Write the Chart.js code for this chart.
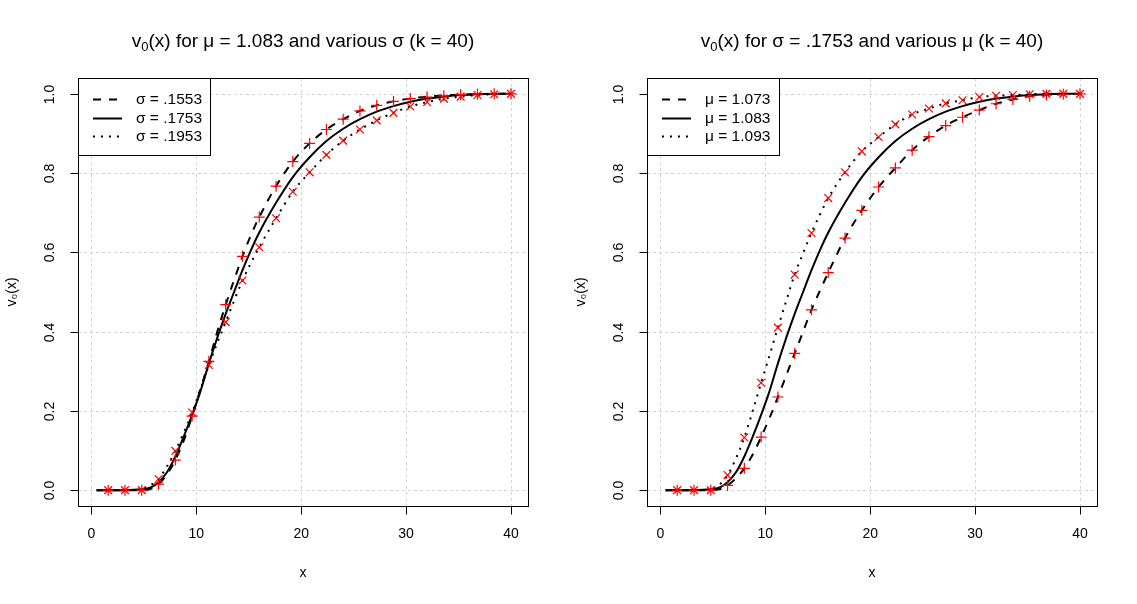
<!DOCTYPE html>
<html>
<head>
<meta charset="utf-8">
<script src="https://cdn.jsdelivr.net/npm/chart.js@4.4.0/dist/chart.umd.min.js"></script>
<style>
  body { margin: 0; background: #fff; width: 1137px; height: 604px; overflow: hidden; position: relative; }
  canvas { position: absolute; top: 0; }
  #leftChart { left: 0; }
  #rightChart { left: 569px; }
</style>
</head>
<body>
<canvas id="leftChart" width="568" height="604"></canvas>
<canvas id="rightChart" width="568" height="604"></canvas>
<script>
// x positions of the curves and of the simulated points
const lineX = [0.5, 1.6, 3.2, 4.8, 5.6, 6.4, 7.2, 8.0, 8.8, 9.6, 10.4, 11.2, 12.0, 12.8, 13.6, 14.4, 15.2,
               16.0, 17.6, 19.2, 20.8, 22.4, 24.0, 25.6, 27.2, 28.8, 30.4, 32.0, 33.6, 35.2, 36.8, 38.4, 40.0];
const markX = [1.6, 3.2, 4.8, 6.4, 8.0, 9.6, 11.2, 12.8, 14.4, 16.0, 17.6, 19.2, 20.8, 22.4, 24.0,
               25.6, 27.2, 28.8, 30.4, 32.0, 33.6, 35.2, 36.8, 38.4, 40.0];

const xTicks = [0, 10, 20, 30, 40];
const yTicks = [0, 0.2, 0.4, 0.6, 0.8, 1.0];

// left panel: mu = 1.083, various sigma
const sigmaLabels = ['σ = .1553', 'σ = .1753', 'σ = .1953'];
const leftDashed = [0, 0, 0, 0, 0.003, 0.015, 0.04, 0.076, 0.125, 0.187, 0.255, 0.325, 0.40, 0.468, 0.53, 0.59, 0.643,
                    0.689, 0.767, 0.829, 0.875, 0.910, 0.936, 0.957, 0.971, 0.981, 0.988, 0.993, 0.996, 0.998, 0.999, 1, 1];
const leftSolid  = [0, 0, 0, 0.002, 0.006, 0.02, 0.045, 0.085, 0.135, 0.19, 0.25, 0.32, 0.385, 0.445, 0.50, 0.555, 0.605,
                    0.65, 0.725, 0.79, 0.84, 0.881, 0.912, 0.936, 0.955, 0.969, 0.98, 0.988, 0.993, 0.997, 0.999, 1, 1];
const leftDotted = [0, 0, 0, 0.002, 0.012, 0.028, 0.06, 0.099, 0.145, 0.196, 0.255, 0.316, 0.372, 0.424, 0.478, 0.529, 0.573,
                    0.613, 0.686, 0.753, 0.802, 0.846, 0.882, 0.910, 0.933, 0.952, 0.968, 0.979, 0.988, 0.993, 0.997, 0.999, 1];
const leftPlus  = [0, 0, 0, 0.015, 0.076, 0.187, 0.325, 0.468, 0.590, 0.689, 0.767, 0.829, 0.875, 0.910, 0.936,
                   0.957, 0.971, 0.981, 0.988, 0.992, 0.995, 0.998, 0.999, 1, 1];
const leftCross = [0, 0, 0, 0.028, 0.099, 0.196, 0.316, 0.424, 0.529, 0.613, 0.686, 0.753, 0.802, 0.846, 0.882,
                   0.910, 0.933, 0.952, 0.968, 0.979, 0.988, 0.993, 0.997, 0.999, 1];

// right panel: sigma = .1753, various mu
const muLabels = ['μ = 1.073', 'μ = 1.083', 'μ = 1.093'];
const rightDashed = [0, 0, 0, 0, 0.002, 0.012, 0.03, 0.055, 0.09, 0.134, 0.182, 0.235, 0.29, 0.345, 0.40, 0.455, 0.503,
                     0.549, 0.636, 0.706, 0.765, 0.813, 0.858, 0.892, 0.920, 0.941, 0.959, 0.975, 0.986, 0.994, 0.997, 0.999, 1];
const rightSolid  = [0, 0, 0, 0.002, 0.006, 0.02, 0.045, 0.085, 0.135, 0.19, 0.25, 0.32, 0.385, 0.445, 0.50, 0.555, 0.605,
                     0.65, 0.725, 0.79, 0.84, 0.881, 0.912, 0.936, 0.955, 0.969, 0.98, 0.988, 0.993, 0.997, 0.999, 1, 1];
const rightDotted = [0, 0, 0, 0.002, 0.013, 0.038, 0.08, 0.133, 0.20, 0.271, 0.34, 0.41, 0.478, 0.544, 0.598, 0.649, 0.695,
                     0.737, 0.802, 0.855, 0.891, 0.923, 0.948, 0.963, 0.976, 0.984, 0.992, 0.995, 0.997, 0.999, 1, 1, 1];
const rightPlus  = [0, 0, 0, 0.012, 0.055, 0.134, 0.235, 0.345, 0.455, 0.549, 0.636, 0.706, 0.765, 0.813, 0.858,
                    0.892, 0.920, 0.941, 0.959, 0.975, 0.986, 0.994, 0.997, 0.999, 1];
const rightCross = [0, 0, 0, 0.038, 0.133, 0.271, 0.410, 0.544, 0.649, 0.737, 0.802, 0.855, 0.891, 0.923, 0.948,
                    0.963, 0.976, 0.984, 0.992, 0.995, 0.997, 0.999, 1, 1, 1];

const FONT = '"Liberation Sans", Arial, sans-serif';

function pts(xs, ys) {
  return xs.map((x, i) => ({x: x, y: ys[i]}));
}

function seg(ctx, x1, y1, x2, y2) {
  ctx.beginPath();
  ctx.moveTo(x1, y1);
  ctx.lineTo(x2, y2);
  ctx.stroke();
}

// grid, box, tick marks, y labels, title and legend in R style
const decor = {
  id: 'decor',
  beforeDatasetsDraw(chart) {
    const {ctx, chartArea: a, scales: {x, y}} = chart;
    ctx.save();
    ctx.strokeStyle = '#d3d3d3';
    ctx.lineWidth = 1;
    ctx.setLineDash([3, 3]);
    xTicks.forEach(v => {
      const p = Math.round(x.getPixelForValue(v)) + 0.5;
      seg(ctx, p, a.top, p, a.bottom);
    });
    yTicks.forEach(v => {
      const p = Math.round(y.getPixelForValue(v)) + 0.5;
      seg(ctx, a.left, p, a.right, p);
    });
    ctx.restore();
  },
  afterDraw(chart, args, opts) {
    const {ctx, chartArea: a, scales: {x, y}} = chart;
    ctx.save();
    ctx.strokeStyle = '#000';
    ctx.lineWidth = 1;
    ctx.setLineDash([]);
    const L = Math.round(a.left) + 0.5, R = Math.round(a.right) + 0.5;
    const T = Math.round(a.top) + 0.5, B = Math.round(a.bottom) + 0.5;
    ctx.strokeRect(L, T, R - L, B - T);
    xTicks.forEach(v => {
      const p = Math.round(x.getPixelForValue(v)) + 0.5;
      seg(ctx, p, B, p, B + 8);
    });
    ctx.fillStyle = '#000';
    ctx.font = '14px ' + FONT;
    ctx.textAlign = 'center';
    ctx.textBaseline = 'middle';
    yTicks.forEach(v => {
      const p = Math.round(y.getPixelForValue(v)) + 0.5;
      seg(ctx, L, p, L - 8, p);
      ctx.save();
      ctx.translate(L - 28, p);
      ctx.rotate(-Math.PI / 2);
      ctx.fillText(v.toFixed(1), 0, 0);
      ctx.restore();
    });

    // title with subscript
    const big = '19px ' + FONT, small = '13px ' + FONT;
    let w = 0;
    opts.title.forEach(part => {
      ctx.font = part.sub ? small : big;
      w += ctx.measureText(part.text).width;
    });
    let tx = (a.left + a.right) / 2 - w / 2;
    ctx.textAlign = 'left';
    ctx.textBaseline = 'alphabetic';
    opts.title.forEach(part => {
      ctx.font = part.sub ? small : big;
      ctx.fillText(part.text, tx, part.sub ? 51 : 47);
      tx += ctx.measureText(part.text).width;
    });

    // legend box
    const items = chart.data.datasets.filter(d => d.inLegend);
    ctx.fillStyle = '#fff';
    ctx.fillRect(L, T, 132, 77);
    ctx.strokeRect(L, T, 132, 77);
    items.forEach((d, i) => {
      const ly = Math.round(a.top + 21 + i * 18.7) + 0.5;
      ctx.strokeStyle = '#000';
      ctx.lineWidth = 2;
      ctx.setLineDash(d.borderDash || []);
      seg(ctx, a.left + 15, ly, a.left + 44, ly);
      ctx.setLineDash([]);
      ctx.fillStyle = '#000';
      ctx.font = '15.5px ' + FONT;
      ctx.textBaseline = 'middle';
      ctx.fillText(d.label, a.left + 58, ly);
    });
    ctx.restore();
  }
};

function lineSet(label, ys, dash) {
  return {
    type: 'line', label: label, inLegend: true, data: pts(lineX, ys),
    borderColor: '#000', borderWidth: 2, borderDash: dash,
    pointRadius: 0, fill: false, cubicInterpolationMode: 'monotone', order: 2
  };
}

function markSet(ys, style) {
  return {
    type: 'scatter', label: style, data: pts(markX, ys),
    pointStyle: style, pointRadius: 5.5, borderColor: '#ff0000', borderWidth: 1.2,
    backgroundColor: '#ff0000', showLine: false, order: 1
  };
}

function makePanel(id, labels, dashed, solid, dotted, plus, cross, title) {
  new Chart(document.getElementById(id), {
    type: 'line',
    data: {
      datasets: [
        lineSet(labels[0], dashed, [8, 8]),
        lineSet(labels[1], solid, []),
        lineSet(labels[2], dotted, [2, 6]),
        markSet(plus, 'cross'),
        markSet(cross, 'crossRot')
      ]
    },
    options: {
      responsive: false,
      animation: false,
      devicePixelRatio: 1,
      layout: {padding: {top: 78, right: 40, bottom: 0, left: 0}},
      plugins: {
        legend: {display: false},
        tooltip: {enabled: false},
        decor: {title: title}
      },
      scales: {
        x: {
          type: 'linear', min: -1.28, max: 41.62,
          afterBuildTicks: s => { s.ticks = xTicks.map(v => ({value: v})); },
          afterFit: s => { s.height = 98; },
          grid: {display: false, drawTicks: false},
          border: {display: false},
          ticks: {color: '#000', font: {family: FONT, size: 14}, padding: 20, maxRotation: 0},
          title: {display: true, text: 'x', color: '#000', font: {family: FONT, size: 14},
                  padding: {top: 0, bottom: 22}}
        },
        y: {
          type: 'linear', min: -0.04, max: 1.04,
          afterBuildTicks: s => { s.ticks = yTicks.map(v => ({value: v})); },
          afterFit: s => { s.width = 78; },
          grid: {display: false, drawTicks: false},
          border: {display: false},
          ticks: {display: false},
          title: {display: true, text: 'v₀(x)', color: '#000', font: {family: FONT, size: 14},
                  padding: {top: 4, bottom: 0}}
        }
      }
    },
    plugins: [decor]
  });
}

makePanel('leftChart', sigmaLabels, leftDashed, leftSolid, leftDotted, leftPlus, leftCross,
  [{text: 'v'}, {text: '0', sub: true}, {text: '(x) for μ = 1.083 and various σ (k = 40)'}]);
makePanel('rightChart', muLabels, rightDashed, rightSolid, rightDotted, rightPlus, rightCross,
  [{text: 'v'}, {text: '0', sub: true}, {text: '(x) for σ = .1753 and various μ (k = 40)'}]);
</script>
</body>
</html>
